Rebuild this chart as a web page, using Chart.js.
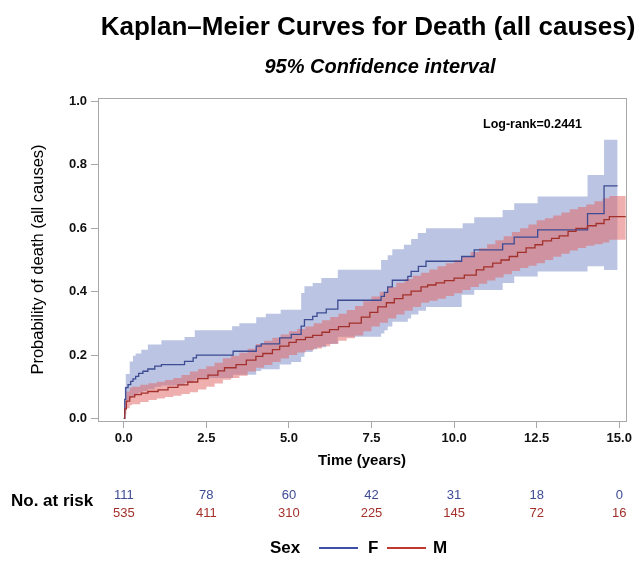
<!DOCTYPE html>
<html>
<head>
<meta charset="utf-8">
<script src="https://cdn.jsdelivr.net/npm/chart.js@4.4.1/dist/chart.umd.min.js"></script>
<style>
  html, body { margin: 0; padding: 0; background: #fff; }
  #km { display: block; }
</style>
</head>
<body>
<canvas id="km" width="635" height="569"></canvas>
<script>
// Kaplan-Meier, probability of death (1 - S)
// F: curve + 95% CI
const fTime  = [0, 0.03, 0.06, 0.13, 0.21, 0.28, 0.36, 0.45, 0.58, 0.73, 0.94, 1.14, 1.84, 2.10, 2.20, 3.31, 4.01, 4.16, 4.72, 5.07, 5.37, 5.47, 5.72, 5.85, 6.13, 6.48, 7.79, 7.89, 7.99, 8.13, 8.60, 8.70, 8.92, 9.15, 10.23, 10.61, 11.47, 11.82, 12.53, 14.04, 14.54, 14.95];
const fProb  = [0, 0.060, 0.097, 0.107, 0.117, 0.125, 0.133, 0.142, 0.149, 0.156, 0.165, 0.170, 0.180, 0.191, 0.200, 0.212, 0.228, 0.235, 0.254, 0.265, 0.291, 0.312, 0.322, 0.333, 0.345, 0.373, 0.385, 0.398, 0.415, 0.436, 0.448, 0.464, 0.480, 0.496, 0.511, 0.532, 0.551, 0.572, 0.595, 0.646, 0.734, 0.734];
const fLower = [0, 0.030, 0.050, 0.058, 0.065, 0.070, 0.076, 0.082, 0.087, 0.092, 0.100, 0.104, 0.112, 0.120, 0.128, 0.138, 0.150, 0.155, 0.170, 0.178, 0.195, 0.210, 0.218, 0.225, 0.235, 0.258, 0.268, 0.278, 0.290, 0.305, 0.315, 0.328, 0.340, 0.352, 0.390, 0.405, 0.427, 0.448, 0.464, 0.480, 0.468, 0.468];
const fUpTime = [0, 0.03, 0.06, 0.18, 0.28, 0.36, 0.53, 0.73, 1.14, 1.84, 2.15, 3.28, 3.50, 4.01, 4.30, 4.75, 5.37, 5.47, 5.72, 5.98, 6.48, 7.79, 7.99, 8.13, 8.48, 8.70, 8.90, 9.15, 10.26, 10.61, 11.47, 11.82, 12.53, 14.04, 14.54, 14.95];
const fUpper  = [0, 0.100, 0.140, 0.180, 0.198, 0.205, 0.217, 0.233, 0.247, 0.257, 0.278, 0.291, 0.300, 0.319, 0.330, 0.343, 0.396, 0.417, 0.427, 0.443, 0.469, 0.500, 0.515, 0.534, 0.548, 0.566, 0.585, 0.600, 0.616, 0.635, 0.658, 0.679, 0.700, 0.768, 0.879, 0.879];

// M: curve + 95% CI
const mTime = [0, 0.03, 0.08, 0.18, 0.33, 0.53, 0.73, 1.04, 1.34, 1.64, 1.94, 2.24, 2.55, 2.85, 3.05, 3.40, 3.71, 4.00, 4.21, 4.50, 4.72, 5.00, 5.22, 5.50, 5.72, 6.00, 6.23, 6.50, 6.83, 7.19, 7.45, 7.69, 7.95, 8.19, 8.45, 8.70, 9.00, 9.20, 9.45, 9.71, 10.00, 10.31, 10.67, 10.90, 11.17, 11.42, 11.67, 11.92, 12.18, 12.45, 12.68, 12.95, 13.18, 13.45, 13.69, 14.04, 14.30, 14.54, 14.70, 15.20];
const mProb = [0, 0.030, 0.055, 0.068, 0.075, 0.080, 0.085, 0.090, 0.098, 0.106, 0.115, 0.126, 0.137, 0.150, 0.160, 0.170, 0.184, 0.196, 0.205, 0.217, 0.228, 0.240, 0.249, 0.256, 0.262, 0.272, 0.280, 0.290, 0.301, 0.320, 0.335, 0.352, 0.365, 0.378, 0.390, 0.402, 0.415, 0.421, 0.428, 0.435, 0.443, 0.452, 0.469, 0.478, 0.490, 0.500, 0.511, 0.524, 0.538, 0.548, 0.560, 0.568, 0.576, 0.590, 0.600, 0.608, 0.615, 0.627, 0.637, 0.637];
const mBandTime = [0, 0.03, 0.08, 0.18, 0.25, 0.5, 0.75, 1.0, 1.25, 1.5, 1.75, 2.0, 2.25, 2.5, 2.75, 3.0, 3.25, 3.5, 3.75, 4.0, 4.25, 4.5, 4.75, 5.0, 5.25, 5.5, 5.75, 6.0, 6.25, 6.5, 6.75, 7.0, 7.25, 7.5, 7.75, 8.0, 8.25, 8.5, 8.75, 9.0, 9.25, 9.5, 9.75, 10.0, 10.25, 10.5, 10.75, 11.0, 11.25, 11.5, 11.75, 12.0, 12.25, 12.5, 12.75, 13.0, 13.25, 13.5, 13.75, 14.0, 14.25, 14.5, 14.7, 15.2];
const mUpper = [0, 0.055, 0.085, 0.097, 0.100, 0.106, 0.111, 0.116, 0.121, 0.128, 0.137, 0.148, 0.156, 0.165, 0.176, 0.190, 0.198, 0.207, 0.220, 0.235, 0.245, 0.255, 0.265, 0.275, 0.282, 0.290, 0.300, 0.310, 0.320, 0.330, 0.342, 0.355, 0.370, 0.385, 0.400, 0.415, 0.428, 0.440, 0.450, 0.460, 0.470, 0.480, 0.490, 0.500, 0.512, 0.525, 0.537, 0.550, 0.562, 0.575, 0.588, 0.600, 0.612, 0.625, 0.632, 0.640, 0.650, 0.660, 0.667, 0.675, 0.685, 0.695, 0.702, 0.702];
const mLower = [0, 0.015, 0.032, 0.042, 0.045, 0.052, 0.058, 0.063, 0.068, 0.072, 0.077, 0.083, 0.091, 0.100, 0.110, 0.122, 0.128, 0.135, 0.148, 0.160, 0.169, 0.178, 0.189, 0.200, 0.208, 0.215, 0.221, 0.228, 0.236, 0.245, 0.253, 0.262, 0.275, 0.290, 0.302, 0.315, 0.328, 0.340, 0.352, 0.365, 0.371, 0.378, 0.386, 0.395, 0.405, 0.415, 0.425, 0.435, 0.445, 0.455, 0.465, 0.475, 0.482, 0.490, 0.500, 0.510, 0.520, 0.530, 0.538, 0.545, 0.550, 0.555, 0.564, 0.564];

// number at risk
const riskTimes = [0, 2.5, 5, 7.5, 10, 12.5, 15];
const riskF = [111, 78, 60, 42, 31, 18, 0];
const riskM = [535, 411, 310, 225, 145, 72, 16];

const xTicks = [0, 2.5, 5, 7.5, 10, 12.5, 15];
const yTicks = [0, 0.2, 0.4, 0.6, 0.8, 1.0];

const FONT = "'Liberation Sans', Arial, sans-serif";
const BLUE = '#3d4b93';
const RED = '#a3302b';
const FRAME = '#a8a8a8';

// step function: hold the previous value until the next time, then jump
function stairs(t, p) {
  const out = [];
  t.forEach((v, i) => {
    if (i > 0) out.push({ x: v, y: p[i - 1] });
    out.push({ x: v, y: p[i] });
  });
  return out;
}

Chart.defaults.font.family = FONT;
Chart.defaults.color = '#000';

// titles, frame, log-rank, at-risk table and legend
const extras = {
  id: 'extras',
  afterDraw(chart) {
    const ctx = chart.ctx;
    const a = chart.chartArea;
    const xs = chart.scales.x;
    ctx.save();
    ctx.strokeStyle = FRAME;
    ctx.lineWidth = 1;
    ctx.strokeRect(Math.round(a.left) + 0.5, Math.round(a.top) + 0.5, Math.round(a.right - a.left), Math.round(a.bottom - a.top));

    ctx.fillStyle = '#000';
    ctx.textBaseline = 'middle';
    ctx.textAlign = 'center';
    ctx.font = 'bold 26px ' + FONT;
    ctx.fillText('Kaplan–Meier Curves for Death (all causes)', 368, 28);
    ctx.font = 'italic bold 20px ' + FONT;
    ctx.fillText('95% Confidence interval', 380, 67);

    ctx.textAlign = 'left';
    ctx.font = 'bold 12.5px ' + FONT;
    ctx.fillText('Log-rank=0.2441', 483, 125);

    // y title
    ctx.save();
    ctx.translate(38, (a.top + a.bottom) / 2);
    ctx.rotate(-Math.PI / 2);
    ctx.textAlign = 'center';
    ctx.font = '16.5px ' + FONT;
    ctx.fillText('Probability of death (all causes)', 0, 0);
    ctx.restore();

    // number at risk
    ctx.textAlign = 'left';
    ctx.font = 'bold 17px ' + FONT;
    ctx.fillText('No. at risk', 11, 501);
    ctx.textAlign = 'center';
    ctx.font = '13px ' + FONT;
    riskTimes.forEach((t, i) => {
      const x = xs.getPixelForValue(t);
      ctx.fillStyle = BLUE;
      ctx.fillText(String(riskF[i]), x, 495);
      ctx.fillStyle = RED;
      ctx.fillText(String(riskM[i]), x, 513);
    });

    // legend
    const ly = 548;
    ctx.fillStyle = '#000';
    ctx.textAlign = 'left';
    ctx.font = 'bold 17px ' + FONT;
    ctx.fillText('Sex', 270, ly);
    ctx.fillText('F', 368, ly);
    ctx.fillText('M', 433, ly);
    ctx.lineWidth = 2;
    ctx.strokeStyle = '#4050a8';
    ctx.beginPath(); ctx.moveTo(319, ly); ctx.lineTo(358, ly); ctx.stroke();
    ctx.strokeStyle = '#c03a32';
    ctx.beginPath(); ctx.moveTo(387, ly); ctx.lineTo(426, ly); ctx.stroke();
    ctx.restore();
  }
};

const clear = 'rgba(0,0,0,0)';

new Chart(document.getElementById('km'), {
  type: 'line',
  data: {
    datasets: [
      { label: 'F lower', data: stairs(fTime, fLower), borderColor: clear, borderWidth: 1, pointRadius: 0, fill: false, order: 5 },
      { label: 'F upper', data: stairs(fUpTime, fUpper), borderColor: clear, borderWidth: 1, pointRadius: 0, fill: '-1', backgroundColor: 'rgba(105,125,190,0.45)', order: 4 },
      { label: 'M lower', data: stairs(mBandTime, mLower), borderColor: clear, borderWidth: 1, pointRadius: 0, fill: false, order: 3 },
      { label: 'M upper', data: stairs(mBandTime, mUpper), borderColor: clear, borderWidth: 1, pointRadius: 0, fill: '-1', backgroundColor: 'rgba(225,95,95,0.5)', order: 2 },
      { label: 'F', data: stairs(fTime, fProb), borderColor: BLUE, borderWidth: 1.3, pointRadius: 0, fill: false, order: 1 },
      { label: 'M', data: stairs(mTime, mProb), borderColor: RED, borderWidth: 1.3, pointRadius: 0, fill: false, order: 0 }
    ]
  },
  options: {
    responsive: false,
    animation: false,
    layout: { padding: { top: 98, right: 8, bottom: 98, left: 0 } },
    plugins: {
      legend: { display: false },
      title: { display: false },
      tooltip: { enabled: false }
    },
    scales: {
      x: {
        type: 'linear',
        min: -0.78,
        max: 15.2,
        afterBuildTicks: axis => { axis.ticks = xTicks.map(v => ({ value: v })); },
        afterFit: axis => { axis.height = 50; },
        grid: { display: true, drawOnChartArea: false, drawTicks: true, tickLength: 7, color: FRAME },
        border: { display: false },
        ticks: { font: { size: 13, weight: 'bold' }, color: '#111', padding: 3, maxRotation: 0, callback: v => v.toFixed(1) },
        title: { display: true, text: 'Time (years)', font: { size: 15, weight: 'bold' }, color: '#000', padding: { top: 0, bottom: 1 } }
      },
      y: {
        min: -0.008,
        max: 1.011,
        afterBuildTicks: axis => { axis.ticks = yTicks.map(v => ({ value: v })); },
        afterFit: axis => { axis.width = 98; },
        grid: { display: true, drawOnChartArea: false, drawTicks: true, tickLength: 7, color: FRAME },
        border: { display: false },
        ticks: { font: { size: 13, weight: 'bold' }, color: '#111', padding: 4, callback: v => v.toFixed(1) }
      }
    }
  },
  plugins: [extras]
});
</script>
</body>
</html>
